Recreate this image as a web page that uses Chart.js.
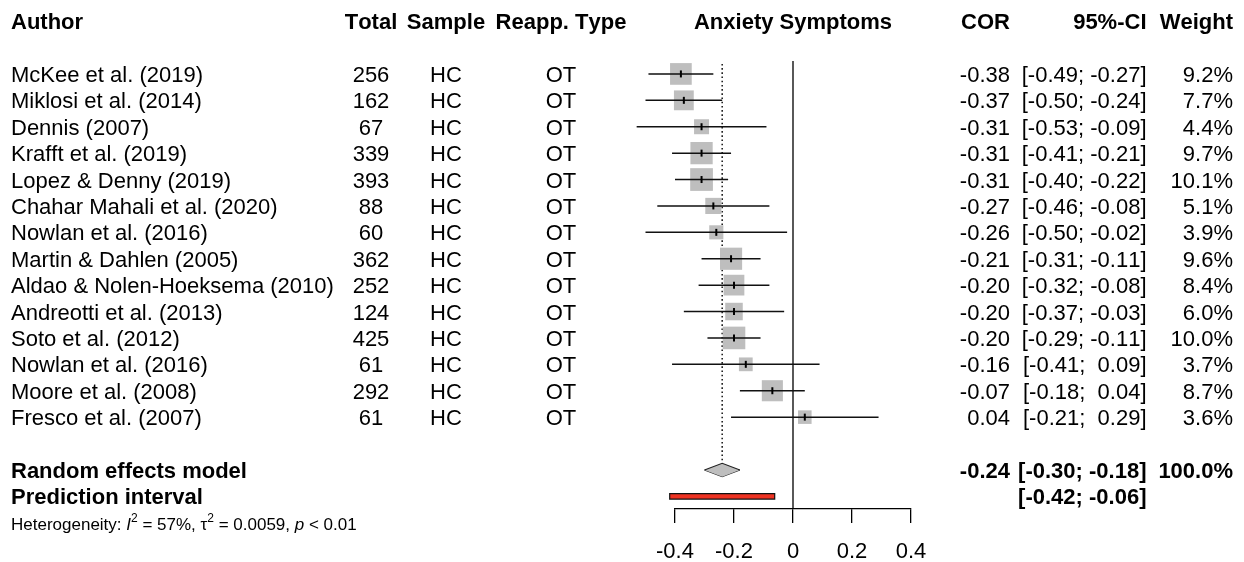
<!DOCTYPE html>
<html>
<head>
<meta charset="utf-8">
<script src="https://cdn.jsdelivr.net/npm/chart.js@4.4.1/dist/chart.umd.min.js"></script>
<style>
  html, body { margin: 0; padding: 0; background: #fff; }
  #wrap { width: 1244px; height: 562px; position: relative; }
</style>
</head>
<body>
<div id="wrap"><canvas id="c"></canvas></div>
<script>
// ---------- data ----------
const authors = [
  'McKee et al. (2019)', 'Miklosi et al. (2014)', 'Dennis (2007)', 'Krafft et al. (2019)',
  'Lopez & Denny (2019)', 'Chahar Mahali et al. (2020)', 'Nowlan et al. (2016)',
  'Martin & Dahlen (2005)', 'Aldao & Nolen-Hoeksema (2010)', 'Andreotti et al. (2013)',
  'Soto et al. (2012)', 'Nowlan et al. (2016)', 'Moore et al. (2008)', 'Fresco et al. (2007)'
];
const totals = [256, 162, 67, 339, 393, 88, 60, 362, 252, 124, 425, 61, 292, 61];
const samples = ['HC','HC','HC','HC','HC','HC','HC','HC','HC','HC','HC','HC','HC','HC'];
const reappTypes = ['OT','OT','OT','OT','OT','OT','OT','OT','OT','OT','OT','OT','OT','OT'];
const cor = [-0.38, -0.37, -0.31, -0.31, -0.31, -0.27, -0.26, -0.21, -0.20, -0.20, -0.20, -0.16, -0.07, 0.04];
const ciLower = [-0.49, -0.50, -0.53, -0.41, -0.40, -0.46, -0.50, -0.31, -0.32, -0.37, -0.29, -0.41, -0.18, -0.21];
const ciUpper = [-0.27, -0.24, -0.09, -0.21, -0.22, -0.08, -0.02, -0.11, -0.08, -0.03, -0.11, 0.09, 0.04, 0.29];
const weights = [9.2, 7.7, 4.4, 9.7, 10.1, 5.1, 3.9, 9.6, 8.4, 6.0, 10.0, 3.7, 8.7, 3.6];
const reEst = -0.24, reLower = -0.30, reUpper = -0.18, reWeight = 100.0;
const piLower = -0.42, piUpper = -0.06;
const xTicks = [-0.4, -0.2, 0, 0.2, 0.4];
const heterogeneity = { I2: '57%', tau2: '0.0059', p: '< 0.01' };

// row indices (y value) for layout
const headerRow = -2;
const reRow = authors.length + 1;     // 15
const piRow = authors.length + 2;     // 16
const hetRow = authors.length + 3;    // 17

// ---------- helpers ----------
const FONT = '"Liberation Sans", Arial, Helvetica, sans-serif';
function fmtCI(v) { return (v < 0 ? '' : ' ') + v.toFixed(2); }
function ciText(lo, hi) { return '[' + fmtCI(lo) + '; ' + fmtCI(hi) + ']'; }

const ciLineData = [];
authors.forEach((a, i) => {
  ciLineData.push({ x: ciLower[i], y: i }, { x: ciUpper[i], y: i }, { x: null, y: null });
});
const dH = 0.254;    // diamond half height (rows)
const piInset = 0.004; // inner red bar inset so the black outline shows at ends

// ---------- text plugin ----------
const tablePlugin = {
  id: 'tableText',
  afterDraw(chart) {
    const ctx = chart.ctx;
    const ys = chart.scales.y;
    const area = chart.chartArea;
    const off = 2;
    ctx.save();
    if ('fontKerning' in ctx) ctx.fontKerning = 'none';
    ctx.fillStyle = '#000';
    ctx.textBaseline = 'middle';
    const put = (txt, x, row, align, bold, size) => {
      ctx.font = (bold ? 'bold ' : '') + (size || 22) + 'px ' + FONT;
      ctx.textAlign = align;
      ctx.fillText(txt, x, ys.getPixelForValue(row) + off);
    };
    const col = { author: 11, total: 371, sample: 446, type: 561, cor: 1010, ci: 1146.5, w: 1233 };
    // headers
    put('Author', col.author, headerRow, 'left', true);
    put('Total', col.total, headerRow, 'center', true);
    put('Sample', col.sample, headerRow, 'center', true);
    put('Reapp. Type', col.type, headerRow, 'center', true);
    put('Anxiety Symptoms', (area.left + area.right) / 2, headerRow, 'center', true);
    put('COR', col.cor, headerRow, 'right', true);
    put('95%-CI', col.ci, headerRow, 'right', true);
    put('Weight', col.w, headerRow, 'right', true);
    // studies
    authors.forEach((a, i) => {
      put(a, col.author, i, 'left');
      put(String(totals[i]), col.total, i, 'center');
      put(samples[i], col.sample, i, 'center');
      put(reappTypes[i], col.type, i, 'center');
      put(cor[i].toFixed(2), col.cor, i, 'right');
      put(ciText(ciLower[i], ciUpper[i]), col.ci, i, 'right');
      put(weights[i].toFixed(1) + '%', col.w, i, 'right');
    });
    // summary
    put('Random effects model', col.author, reRow, 'left', true);
    put(reEst.toFixed(2), col.cor, reRow, 'right', true);
    put(ciText(reLower, reUpper), col.ci, reRow, 'right', true);
    put(reWeight.toFixed(1) + '%', col.w, reRow, 'right', true);
    put('Prediction interval', col.author, piRow, 'left', true);
    put(ciText(piLower, piUpper), col.ci, piRow, 'right', true);
    // heterogeneity line
    const baseY = ys.getPixelForValue(hetRow) + off + 1;
    let x = col.author;
    ctx.textAlign = 'left';
    const seg = (txt, style, sup) => {
      const size = sup ? 12 : 17;
      ctx.font = (style ? style + ' ' : '') + size + 'px ' + FONT;
      ctx.fillText(txt, x, baseY - (sup ? 7 : 0));
      x += ctx.measureText(txt).width;
    };
    seg('Heterogeneity: ');
    seg('I', 'italic');
    seg('2', '', true);
    seg(' = ' + heterogeneity.I2 + ', \u03C4');
    seg('2', '', true);
    seg(' = ' + heterogeneity.tau2 + ', ');
    seg('p', 'italic');
    seg(' ' + heterogeneity.p);
    ctx.restore();
  }
};

// ---------- chart ----------
new Chart(document.getElementById('c'), {
  type: 'scatter',
  data: {
    datasets: [
      { // estimate tick marks (drawn on top)
        data: cor.map((v, i) => ({ x: v, y: i })),
        pointStyle: 'line', rotation: 90, pointRadius: 3.5,
        pointBorderColor: '#000', pointBorderWidth: 2, clip: false
      },
      { // confidence intervals
        data: ciLineData, showLine: true, spanGaps: false,
        borderColor: '#111', borderWidth: 1.5, pointRadius: 0, clip: false
      },
      { // weight squares
        data: cor.map((v, i) => ({ x: v, y: i })),
        pointStyle: 'rect',
        pointRadius: (c) => 7.15 * Math.sqrt(weights[c.dataIndex]) / Math.SQRT2,
        pointBackgroundColor: '#BEBEBE', pointBorderWidth: 0, clip: false
      },
      { // diamond upper
        data: [{ x: reLower, y: reRow }, { x: reEst, y: reRow - dH }, { x: reUpper, y: reRow }],
        showLine: true, borderColor: '#222', borderWidth: 1.1, pointRadius: 0,
        backgroundColor: '#BEBEBE', fill: '+1', tension: 0, clip: false
      },
      { // diamond lower
        data: [{ x: reLower, y: reRow }, { x: reEst, y: reRow + dH }, { x: reUpper, y: reRow }],
        showLine: true, borderColor: '#222', borderWidth: 1.1, pointRadius: 0, tension: 0, clip: false
      },
      { // prediction interval inner red bar
        data: [{ x: piLower + piInset, y: piRow }, { x: piUpper - piInset, y: piRow }],
        showLine: true, borderColor: '#EE3322', borderWidth: 4.2, borderCapStyle: 'butt',
        pointRadius: 0, clip: false
      },
      { // prediction interval outline
        data: [{ x: piLower, y: piRow }, { x: piUpper, y: piRow }],
        showLine: true, borderColor: '#111', borderWidth: 6.6, borderCapStyle: 'butt',
        pointRadius: 0, clip: false
      },
      { // summary estimate (dotted)
        data: [{ x: reEst, y: -0.38 }, { x: reEst, y: reRow - dH }],
        showLine: true, borderColor: '#222', borderWidth: 1.6, borderDash: [1.6, 2.6],
        pointRadius: 0, clip: false
      },
      { // line of no effect
        data: [{ x: 0, y: -0.49 }, { x: 0, y: 16.48 }],
        showLine: true, borderColor: '#000', borderWidth: 1.3, pointRadius: 0, clip: false
      }
    ]
  },
  options: {
    responsive: true,
    maintainAspectRatio: false,
    animation: false,
    events: [],
    layout: { padding: { left: 675, right: 333, top: 61, bottom: 0 } },
    plugins: { legend: { display: false }, tooltip: { enabled: false } },
    scales: {
      x: {
        type: 'linear', min: -0.4, max: 0.4,
        afterBuildTicks: (s) => { s.ticks = xTicks.map(v => ({ value: v })); },
        afterFit: (s) => { s.height = 53; },
        grid: { drawOnChartArea: false, drawTicks: true, tickLength: 14, color: '#000', lineWidth: 1.3 },
        border: { display: true, color: '#000', width: 1.3 },
        ticks: {
          color: '#000', padding: 18,
          font: { family: FONT, size: 22, lineHeight: 1 },
          callback: (v) => String(v), maxRotation: 0, autoSkip: false
        }
      },
      y: {
        type: 'linear', display: false, reverse: true, min: -0.49, max: 16.48
      }
    }
  },
  plugins: [tablePlugin]
});
</script>
</body>
</html>
